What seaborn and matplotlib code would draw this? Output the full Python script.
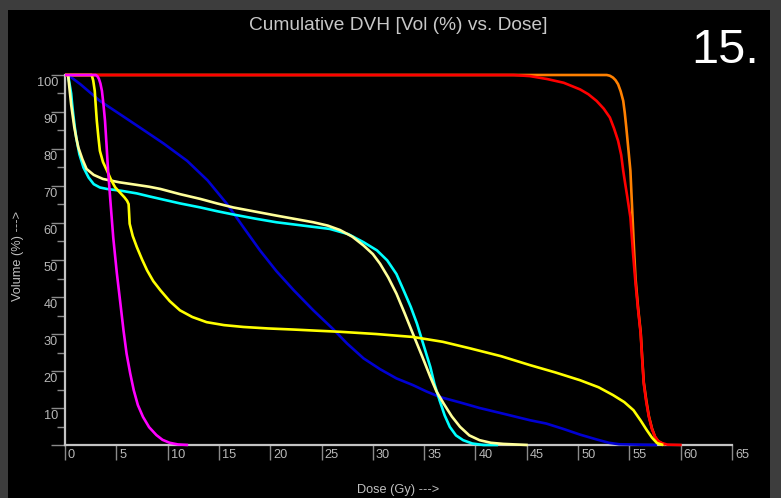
import matplotlib
matplotlib.use("Agg")
import matplotlib.pyplot as plt
import seaborn as sns
import pandas as pd
from matplotlib.transforms import ScaledTranslation
from matplotlib.patches import Rectangle

# ---------------- data ----------------
orange_dose = [0, 52.8, 53.1, 53.4, 53.65, 53.9, 54.15, 54.4, 54.55, 54.7, 54.9, 55.1, 55.2, 55.3,
               55.45, 55.6, 55.85, 56.1, 56.25, 56.4, 56.65, 56.9, 57.2, 57.5, 57.8, 58.2, 58.5]
orange_vol = [100, 100, 99.8, 99.3, 98.6, 97.5, 95.6, 93, 89.8, 85.8, 80, 74.1, 68, 62,
              53, 45, 37, 30.5, 23.5, 17, 12, 7.8, 4.5, 2.2, 1, 0.4, 0]

red_dose = [0, 43.7, 45.3, 47.0, 48.6, 50.2, 51.0, 51.8, 52.5, 53.1, 53.5, 53.9, 54.2, 54.4, 54.6,
            54.8, 55.1, 55.35, 55.6, 55.85, 56.1, 56.25, 56.4, 56.65, 56.9, 57.2, 57.5, 57.8,
            58.2, 58.7, 60.1]
red_vol = [100, 100, 99.7, 98.9, 97.9, 96.1, 94.8, 93, 90.9, 88.5, 85.6, 82.2, 78.4, 74.1, 70.5,
           67, 61.5, 52, 43.6, 36.5, 30.1, 23, 16.6, 11.5, 7.6, 4.3, 2.2, 1.1,
           0.5, 0.1, 0]

blue_dose = [0.3, 1.5, 3.4, 5.3, 7.3, 9.6, 11.9, 13.9, 15.8, 17.4, 19.0, 20.6, 22.3, 24.2, 26.1,
             27.5, 29.1, 30.7, 32.3, 33.9, 35.2, 36.5, 38.5, 40.4, 42.8, 45.3, 46.9, 48.5, 50.2,
             51.8, 53.0, 54.0, 57.7]
blue_vol = [100, 97.5, 93, 89.5, 85.8, 81.5, 76.8, 71.5, 65.1, 58.8, 52.6, 47, 41.8, 36.4, 31.4,
            27.4, 23.4, 20.5, 18.0, 16.2, 14.5, 13, 11.5, 10, 8.4, 6.7, 5.8, 4.4, 2.8,
            1.5, 0.6, 0.2, 0]

cyan_dose = [0.3, 0.45, 0.6, 0.7, 0.8, 0.95, 1.1, 1.4, 1.8, 2.3, 2.8, 3.4, 4.1, 5.5, 7.0, 8.2, 9.3,
             11.2, 13.2, 14.8, 16.4, 18.5, 20.6, 23.2, 25.8, 27.6, 29.1, 30.4, 31.4, 32.3, 33.0,
             33.7, 34.3, 35.0, 35.6, 36.0, 36.5, 37.0, 37.5, 38.1, 38.8, 39.7, 40.8, 42.2]
cyan_vol = [100, 97.5, 95, 92, 89.4, 86, 83, 78.6, 75, 72.3, 70.5, 69.6, 69.2, 68.7, 68, 67.2, 66.5,
            65.3, 64.2, 63.2, 62.3, 61.2, 60.2, 59.3, 58.4, 57, 54.8, 52.6, 49.9, 46.2, 41.8,
            37.3, 32.8, 26.5, 21.1, 16.5, 12.1, 8.0, 4.9, 2.6, 1.3, 0.4, 0, 0]

pale_dose = [0.3, 0.45, 0.6, 0.75, 0.9, 1.1, 1.3, 1.7, 2.1, 2.8, 3.7, 5.3, 7.0, 8.2, 9.3, 11.2,
             13.2, 14.8, 16.4, 18.5, 20.6, 22.4, 24.2, 25.6, 26.8, 28.0, 29.1, 30.0, 30.7, 31.5,
             32.3, 33.1, 33.9, 34.8, 35.6, 36.2, 36.9, 37.7, 38.5, 39.4, 40.4, 41.5, 42.7, 45.1]
pale_vol = [100, 96, 92, 89, 86, 83, 80.4, 77.2, 74.6, 73, 71.9, 71, 70.3, 69.8, 69.2, 67.8,
            66.5, 65.3, 64.2, 63.1, 62, 61.1, 60.2, 59.3, 58.1, 56.3, 53.9, 51.6, 49, 45.3,
            40.9, 35.6, 30.1, 24, 18.4, 14.5, 11.2, 7.7, 4.9, 2.6, 1.3, 0.6, 0.3, 0]

yellow_dose = [0, 2.6, 2.75, 2.9, 3.0, 3.1, 3.25, 3.4, 3.7, 4.1, 4.5, 4.9, 5.4, 5.8, 6.05, 6.2,
               6.25, 6.3, 6.6, 7.0, 7.5, 8.0, 8.6, 9.3, 10.2, 11.2, 12.4, 13.8, 15.5, 17.4, 19.8,
               22.3, 24.5, 26.8, 30.3, 33.9, 36.8, 39.5, 42.5, 45.3, 47.8, 50.2, 52.0, 53.4, 54.5,
               55.4, 56.1, 56.7, 57.2, 57.7, 58.3]
yellow_vol = [100, 100, 98.5, 95.7, 91.5, 87.6, 83.3, 79.5, 76.5, 74.1, 71.6, 69.6, 68.1, 66.9, 66.0,
              65.1, 62.5, 59.8, 56.5, 53.5, 50.2, 47.2, 44.3, 41.8, 38.9, 36.4, 34.6, 33.2, 32.4,
              31.9, 31.5, 31.2, 30.9, 30.6, 30.0, 29.2, 27.9, 26.1, 24, 21.6, 19.6, 17.5, 15.6,
              13.5, 11.6, 9.4, 6.6, 4, 2, 0.5, 0]

magenta_dose = [0, 3.0, 3.15, 3.3, 3.45, 3.6, 3.75, 3.9, 4.05, 4.2, 4.45, 4.7, 5.05, 5.4, 5.7, 6.0,
                6.35, 6.7, 7.1, 7.6, 8.2, 8.9, 9.5, 10.2, 11.0, 12.0]
magenta_vol = [100, 100, 99.7, 99, 97.7, 95.7, 92, 87.6, 81, 74.1, 65, 56.1, 46.5, 38.2, 31, 24.7,
               19.4, 14.8, 10.8, 7.6, 4.8, 2.7, 1.4, 0.6, 0.15, 0]

series_names = ["orange", "red", "blue", "cyan", "pale", "yellow", "magenta"]
series_colors = ["#ff8000", "#ff0000", "#0000d2", "#00ffff", "#ffff99", "#ffff00", "#ff00ff"]
series_data = {
    "orange": (orange_dose, orange_vol),
    "red": (red_dose, red_vol),
    "blue": (blue_dose, blue_vol),
    "cyan": (cyan_dose, cyan_vol),
    "pale": (pale_dose, pale_vol),
    "yellow": (yellow_dose, yellow_vol),
    "magenta": (magenta_dose, magenta_vol),
}

x_ticks = list(range(0, 70, 5))
y_major = list(range(0, 110, 10))
y_minor = list(range(5, 100, 10))
y_labels = list(range(10, 110, 10))

title_text = "Cumulative DVH [Vol (%) vs. Dose]"
x_label = "Dose (Gy) --->"
y_label = "Volume (%) --->"
corner_text = "15."

# ---------------- figure ----------------
plt.rcParams["font.family"] = ["Liberation Sans", "DejaVu Sans"]
W, H = 781, 498
fig = plt.figure(figsize=(W / 100, H / 100), dpi=100, facecolor="#3d3d3d")
fig.add_artist(Rectangle((8 / W, 0), (770 - 8) / W, (H - 10) / H,
                         transform=fig.transFigure, facecolor="black",
                         edgecolor="none", zorder=0))

ax = fig.add_axes([65 / W, (H - 445) / H, (732 - 65) / W, (445 - 75) / H])
ax.set_facecolor("black")
ax.patch.set_alpha(0)

rows = []
for name in series_names:
    d, v = series_data[name]
    for a, b in zip(d, v):
        rows.append({"dose": a, "vol": b, "series": name})
df = pd.DataFrame(rows)

sns.lineplot(data=df, x="dose", y="vol", hue="series", hue_order=series_names,
             palette=dict(zip(series_names, series_colors)), sort=False,
             estimator=None, legend=False, ax=ax, lw=1.9, clip_on=False,
             zorder=5, solid_joinstyle="round", solid_capstyle="butt")

ax.set_xlim(0, 65)
ax.set_ylim(0, 100)
ax.set_xlabel("")
ax.set_ylabel("")
for s in ["top", "right"]:
    ax.spines[s].set_visible(False)
for s in ["left", "bottom"]:
    ax.spines[s].set_color("#c4c4c4")
    ax.spines[s].set_linewidth(1.6)

ax.set_xticks(x_ticks)
ax.set_xticklabels([])
ax.set_yticks(y_major)
ax.set_yticks(y_minor, minor=True)
ax.set_yticklabels([])
ax.tick_params(axis="x", which="major", direction="out", length=11, width=1, color="#8a8a8a")
ax.tick_params(axis="y", which="major", direction="out", length=10, width=1, color="#8a8a8a")
ax.tick_params(axis="y", which="minor", direction="out", length=5.8, width=1, color="#8a8a8a")

tick_color = "#b8b8b8"
xt = ax.get_xaxis_transform() + ScaledTranslation(3 / 100, -10 / 100, fig.dpi_scale_trans)
for t in x_ticks:
    ax.text(t, 0, str(t), transform=xt, ha="left", va="center", fontsize=9.2, color=tick_color)
yt = ax.get_yaxis_transform() + ScaledTranslation(-7 / 100, -8 / 100, fig.dpi_scale_trans)
for t in y_labels:
    ax.text(0, t, str(t), transform=yt, ha="right", va="center", fontsize=9.2, color=tick_color)

fig.text(398 / W, 1 - 25 / H, title_text, ha="center", va="center", fontsize=13.8, color="#c8c8c8")
fig.text(398 / W, 1 - 490 / H, x_label, ha="center", va="center", fontsize=9.2, color="#c0c0c0")
fig.text(18 / W, 1 - 256 / H, y_label, ha="center", va="center", rotation=90, fontsize=9.2, color="#c0c0c0")
fig.text(691 / W, 1 - 63 / H, corner_text, ha="left", va="baseline", fontsize=35, color="white")

fig.savefig("out.png", dpi=100, facecolor=fig.get_facecolor())
